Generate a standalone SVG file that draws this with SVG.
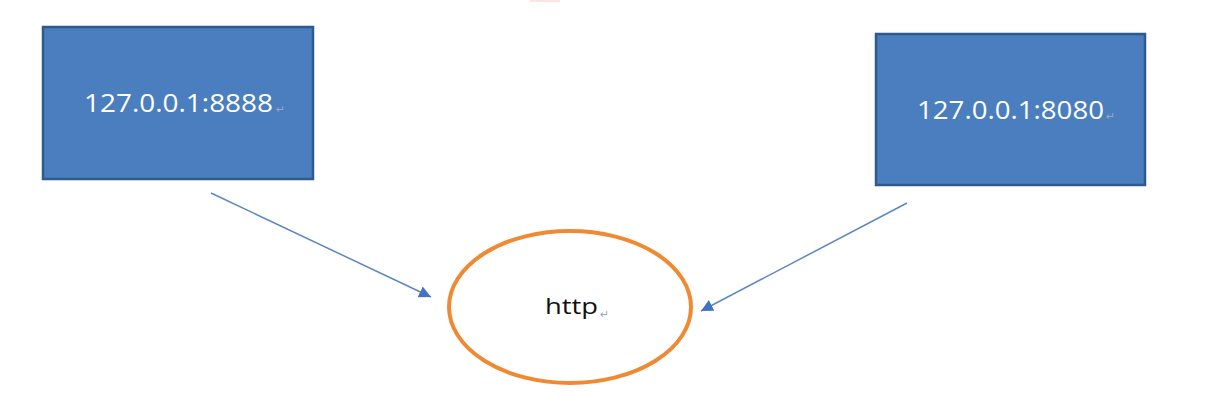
<svg xmlns="http://www.w3.org/2000/svg" width="1211" height="407" viewBox="0 0 1211 407">
<style>
.box{fill:#4a7ebf;stroke:#2f5a8e;stroke-width:2.5}
.lbl{font-family:"Open Sans","Liberation Sans",Arial,sans-serif;font-size:26px;fill:#ffffff}
.ret{font-family:"DejaVu Sans",sans-serif;font-size:11px;fill:#9aa8bb}
.conn{stroke:#5b86c0;stroke-width:1.5;fill:none}
</style>
<defs>
<marker id="ah" viewBox="0 0 12 12" refX="12" refY="6" markerWidth="12" markerHeight="12" markerUnits="userSpaceOnUse" orient="auto">
<path d="M0,0 L12,6 L0,12 z" fill="#4472c4"/>
</marker>
</defs>
<rect x="0" y="0" width="1211" height="407" fill="#ffffff"/>
<rect x="530" y="0" width="30" height="2" fill="#fde2e2"/>
<g id="node-8888">
<rect class="box" x="43" y="27" width="270" height="152"/>
<text class="lbl" x="84" y="112" textLength="189" lengthAdjust="spacingAndGlyphs">127.0.0.1:8888</text>
<text class="ret" x="276" y="113">↵</text>
</g>
<g id="node-8080">
<rect class="box" x="876" y="34" width="269" height="151"/>
<text class="lbl" x="917" y="119" textLength="187" lengthAdjust="spacingAndGlyphs">127.0.0.1:8080</text>
<text class="ret" x="1106" y="120">↵</text>
</g>
<g id="node-http">
<ellipse cx="570" cy="307" rx="121" ry="76" fill="#ffffff" stroke="#ef8a33" stroke-width="4"/>
<text x="545" y="314" font-family="'Open Sans','Liberation Sans',Arial,sans-serif" font-size="22" fill="#111111" textLength="53" lengthAdjust="spacingAndGlyphs">http</text>
<text class="ret" x="600" y="318">↵</text>
</g>
<g id="connectors">
<line class="conn" x1="211" y1="193" x2="431" y2="297" marker-end="url(#ah)"/>
<line class="conn" x1="907" y1="203" x2="701" y2="311" marker-end="url(#ah)"/>
</g>
</svg>
